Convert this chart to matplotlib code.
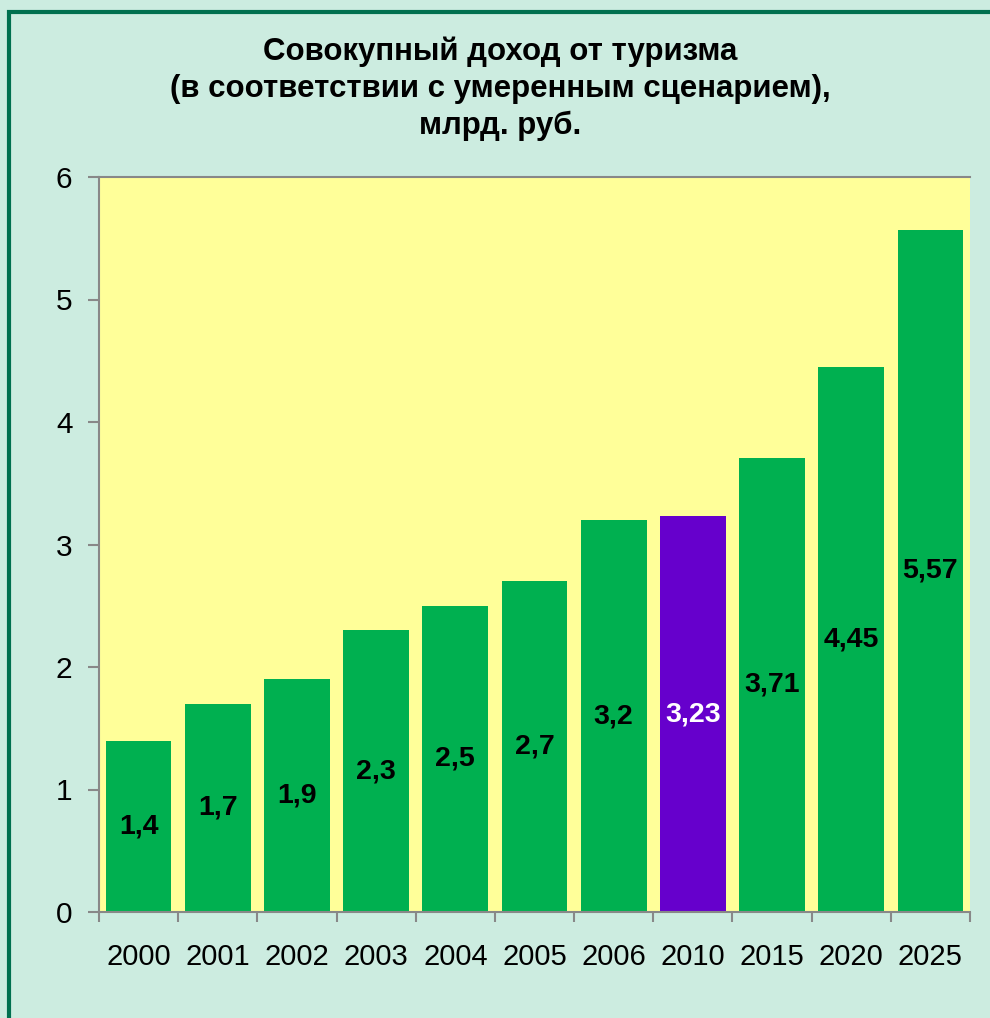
import matplotlib
matplotlib.use("Agg")
import matplotlib.pyplot as plt
from matplotlib.patches import Rectangle

categories = ["2000", "2001", "2002", "2003", "2004", "2005", "2006", "2010", "2015", "2020", "2025"]
values = [1.4, 1.7, 1.9, 2.3, 2.5, 2.7, 3.2, 3.23, 3.71, 4.45, 5.57]
labels = ["1,4", "1,7", "1,9", "2,3", "2,5", "2,7", "3,2", "3,23", "3,71", "4,45", "5,57"]
highlight = "2010"
title = "Совокупный доход от туризма\n(в соответствии с умеренным сценарием),\nмлрд. руб."
yticks = [0, 1, 2, 3, 4, 5, 6]

plt.rcParams['font.family'] = ['Liberation Sans', 'DejaVu Sans']

W, H = 990, 1018
fig = plt.figure(figsize=(W / 100, H / 100), dpi=100)
fig.patch.set_facecolor("#CCECE0")

# outer border (only left and top visible in the reference)
fig.patches.append(Rectangle((9 / W, -0.05), 1.1, 1 - 12 / H + 0.05,
                             transform=fig.transFigure, fill=False,
                             edgecolor="#00704F", linewidth=3))

left, right, top, bottom = 99, 970, 177, 912
ax = fig.add_axes([left / W, 1 - bottom / H, (right - left) / W, (bottom - top) / H])
ax.set_facecolor("#FFFF99")

green = "#00B050"
purple = "#6600CC"
x = list(range(len(categories)))
colors = [purple if c == highlight else green for c in categories]
ax.bar(x, values, width=0.83, color=colors, zorder=2)
for xi, v, lab, c in zip(x, values, labels, categories):
    ax.text(xi, v / 2, lab, ha="center", va="center", fontsize=20.5, fontweight="bold",
            color="white" if c == highlight else "black", zorder=3)

ax.set_xlim(-0.5, len(categories) - 0.5)
ax.set_ylim(0, 6)
ax.set_yticks(yticks)
ax.set_yticklabels([str(t) for t in yticks], fontsize=21.5)
ax.set_xticks([i - 0.5 for i in range(len(categories) + 1)], minor=False)
ax.set_xticklabels([])
ax.set_xticks(x, minor=True)
ax.set_xticklabels(categories, minor=True, fontsize=21)
ax.tick_params(axis="x", which="major", length=7, color="#888888", width=1.5)
ax.tick_params(axis="x", which="minor", length=0, pad=22)
ax.tick_params(axis="y", length=8, color="#888888", width=1.5, pad=11)

for s in ["left", "bottom", "top"]:
    ax.spines[s].set_color("#888888")
    ax.spines[s].set_linewidth(1.5)
ax.spines["right"].set_visible(False)

fig.text(500 / W, 1 - 89 / H, title, ha="center", va="center", fontsize=22.5,
         fontweight="bold", linespacing=1.3)

fig.savefig("out.png", dpi=100, facecolor=fig.get_facecolor())
